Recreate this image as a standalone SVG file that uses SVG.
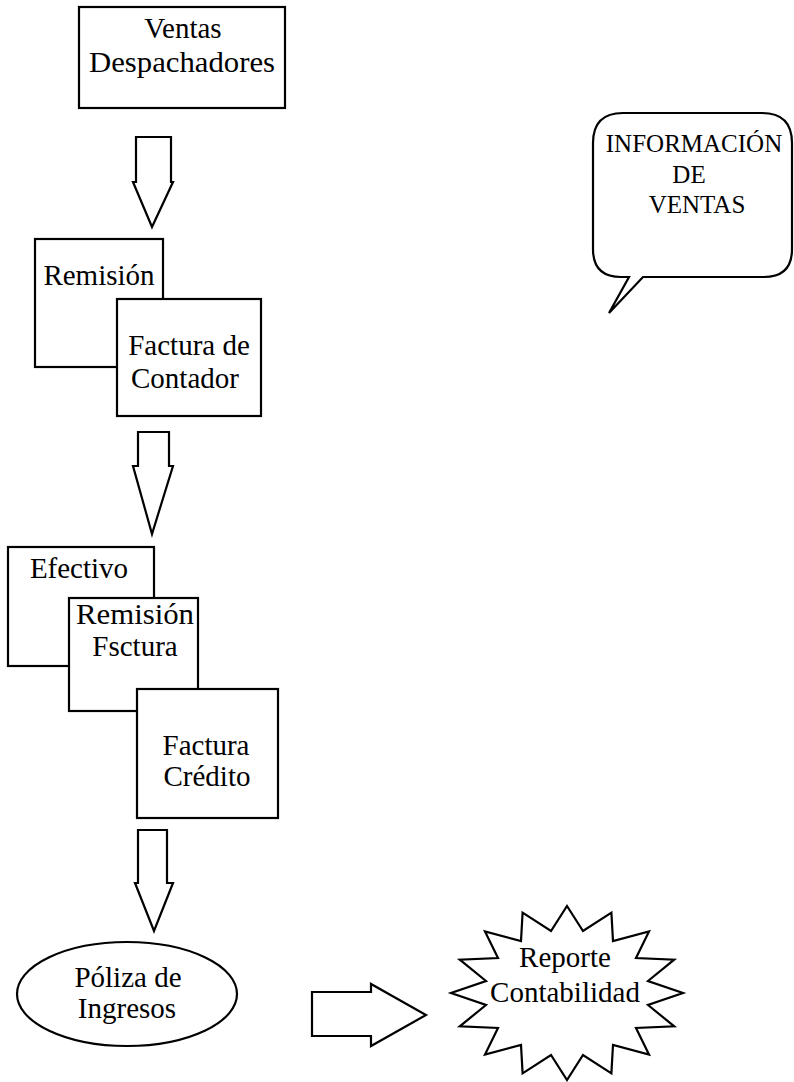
<svg xmlns="http://www.w3.org/2000/svg" width="794" height="1082" viewBox="0 0 794 1082">
  <style>
    .shape { fill: #fff; stroke: #000; stroke-width: 2.2; stroke-linejoin: miter; }
    .lbl { font-family: "Liberation Serif", "Times New Roman", serif; font-size: 29px; fill: #000; text-anchor: middle; }
    .lbl-sm { font-family: "Liberation Serif", "Times New Roman", serif; font-size: 25px; fill: #000; text-anchor: middle; }
  </style>
  <rect width="794" height="1082" fill="#fff"/>

  <g id="ventas-despachadores">
    <rect class="shape" x="79" y="7" width="206" height="101"/>
    <text class="lbl" x="183" y="38">Ventas</text>
    <text class="lbl" x="182" y="72" textLength="186" lengthAdjust="spacingAndGlyphs">Despachadores</text>
  </g>

  <g id="informacion-ventas">
    <path class="shape" d="M623,113 H762 Q792,113 792,143 V249 Q792,277 764,277 H643 L609,313 L629,277 H621 Q593,277 593,249 V143 Q593,113 623,113 Z"/>
    <text class="lbl-sm" x="694" y="152">INFORMACIÓN</text>
    <text class="lbl-sm" x="689" y="183">DE</text>
    <text class="lbl-sm" x="697" y="213">VENTAS</text>
  </g>

  <g id="remision">
    <rect class="shape" x="35" y="239" width="128" height="128"/>
    <text class="lbl" x="99" y="285">Remisión</text>
  </g>

  <g id="factura-contador">
    <rect class="shape" x="117" y="299" width="144" height="117"/>
    <text class="lbl" x="189" y="355">Factura de</text>
    <text class="lbl" x="185" y="388">Contador</text>
  </g>

  <g id="efectivo">
    <rect class="shape" x="8" y="547" width="146" height="119"/>
    <text class="lbl" x="79" y="578">Efectivo</text>
  </g>

  <g id="remision-factura">
    <rect class="shape" x="69" y="598" width="129" height="113"/>
    <text class="lbl" x="135" y="624" textLength="118" lengthAdjust="spacingAndGlyphs">Remisión</text>
    <text class="lbl" x="135" y="656">Fsctura</text>
  </g>

  <g id="factura-credito">
    <rect class="shape" x="137" y="689" width="141" height="129"/>
    <text class="lbl" x="206" y="755">Factura</text>
    <text class="lbl" x="207" y="786">Crédito</text>
  </g>

  <g id="poliza-ingresos">
    <ellipse class="shape" cx="127" cy="994" rx="110" ry="52"/>
    <text class="lbl" x="128" y="987">Póliza de</text>
    <text class="lbl" x="127" y="1018">Ingresos</text>
  </g>

  <g id="reporte-contabilidad">
    <polygon class="shape" points="567,906 583,931 611.4,912.6 613,941 649,931.5 636,958 674.2,959.7 648,981 683,993 648,1005 674.2,1026.3 636,1028 649,1054.5 613,1045 611.4,1073.4 583,1055 567,1080 551,1055 522.6,1073.4 521,1045 485,1054.5 498,1028 459.8,1026.3 486,1005 451,993 486,981 459.8,959.7 498,958 485,931.5 521,941 522.6,912.6 551,931"/>
    <text class="lbl" x="565" y="967">Reporte</text>
    <text class="lbl" x="565" y="1002">Contabilidad</text>
  </g>

  <!-- block arrows linking the steps -->
  <g id="connectors">
    <path class="shape" d="M136,137 H171 V182 H173 L152,227 L133,182 H136 Z"/>
    <path class="shape" d="M138,432 H169 V466 H173 L152,534 L133,466 H138 Z"/>
    <path class="shape" d="M138,830 H167 V883 H173 L154,931 L135,883 H138 Z"/>
    <path class="shape" d="M312,992 H371 V984 L426,1015 L371,1046 V1036 H312 Z"/>
  </g>
</svg>
